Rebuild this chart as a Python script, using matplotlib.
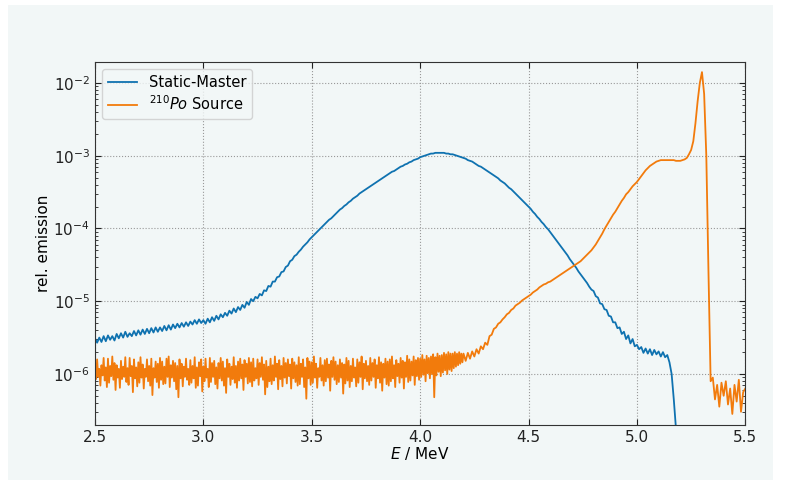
"""
Emission spectra: Static-Master vs 210Po source (log scale)
"""
import numpy as np
import matplotlib.pyplot as plt
import matplotlib.patches as mpatches
from matplotlib.ticker import LogLocator, NullFormatter

# log10(rel. emission), Static-Master, 2.50 ... 5.19 MeV, step 0.01
static_log = [
    -5.51, -5.57, -5.50, -5.56, -5.48, -5.55, -5.47, -5.53, -5.48, -5.54,
    -5.45, -5.51, -5.44, -5.50, -5.42, -5.49, -5.44, -5.48, -5.41, -5.47,
    -5.40, -5.46, -5.39, -5.45, -5.38, -5.44, -5.37, -5.43, -5.36, -5.42,
    -5.36, -5.41, -5.34, -5.40, -5.33, -5.39, -5.32, -5.37, -5.31, -5.36,
    -5.30, -5.35, -5.29, -5.34, -5.28, -5.32, -5.26, -5.31, -5.25, -5.30,
    -5.26, -5.31, -5.24, -5.29, -5.22, -5.27, -5.20, -5.25, -5.18, -5.22,
    -5.16, -5.20, -5.13, -5.17, -5.10, -5.15, -5.08, -5.12, -5.05, -5.09,
    -5.01, -5.05, -4.97, -5.00, -4.94, -4.96, -4.90, -4.92, -4.85, -4.86,
    -4.79, -4.80, -4.73, -4.73, -4.67, -4.66, -4.60, -4.59, -4.53, -4.51,
    -4.45, -4.43, -4.38, -4.36, -4.32, -4.29, -4.25, -4.22, -4.19, -4.15,
    -4.12, -4.09, -4.06, -4.03, -4.00, -3.97, -3.94, -3.91, -3.88, -3.86,
    -3.83, -3.80, -3.77, -3.74, -3.72, -3.69, -3.67, -3.64, -3.62, -3.59,
    -3.57, -3.55, -3.52, -3.50, -3.48, -3.46, -3.44, -3.42, -3.40, -3.38,
    -3.36, -3.34, -3.32, -3.30, -3.28, -3.26, -3.24, -3.22, -3.21, -3.19,
    -3.17, -3.15, -3.14, -3.12, -3.11, -3.09, -3.08, -3.06, -3.05, -3.04,
    -3.02, -3.01, -3.00, -2.99, -2.98, -2.97, -2.97, -2.96, -2.96, -2.96,
    -2.96, -2.96, -2.97, -2.97, -2.98, -2.98, -2.99, -3.00, -3.01, -3.02,
    -3.03, -3.04, -3.06, -3.07, -3.08, -3.10, -3.12, -3.14, -3.15, -3.17,
    -3.19, -3.21, -3.23, -3.25, -3.27, -3.29, -3.31, -3.34, -3.36, -3.38,
    -3.41, -3.44, -3.46, -3.49, -3.52, -3.55, -3.58, -3.61, -3.64, -3.67,
    -3.70, -3.73, -3.77, -3.80, -3.84, -3.87, -3.91, -3.94, -3.98, -4.01,
    -4.05, -4.09, -4.13, -4.17, -4.21, -4.25, -4.29, -4.33, -4.37, -4.42,
    -4.46, -4.50, -4.54, -4.59, -4.63, -4.67, -4.71, -4.75, -4.80, -4.84,
    -4.86, -4.93, -4.95, -5.03, -5.04, -5.11, -5.12, -5.20, -5.21, -5.29,
    -5.29, -5.37, -5.36, -5.45, -5.42, -5.52, -5.47, -5.58, -5.52, -5.62,
    -5.60, -5.66, -5.63, -5.71, -5.65, -5.72, -5.66, -5.74, -5.67, -5.73,
    -5.69, -5.76, -5.70, -5.77, -5.74, -5.84, -6.00, -6.35, -6.75, -7.00,
]

# log10(rel. emission), 210Po source, noisy flat part 2.500 ... 4.195 MeV, step 0.005
po_noise_log = [
    -5.90, -6.07, -5.80, -6.04, -5.93, -6.16, -5.88, -6.02, -5.78, -6.09,
    -5.91, -6.18, -5.79, -6.12, -5.89, -6.03, -5.76, -6.08, -5.85, -6.22,
    -5.88, -6.05, -5.93, -6.19, -5.82, -6.07, -5.90, -6.04, -5.77, -6.11,
    -5.92, -6.15, -5.78, -6.03, -5.89, -6.25, -5.80, -6.06, -5.91, -6.17,
    -5.84, -6.12, -5.77, -6.05, -5.87, -6.20, -5.93, -6.04, -5.80, -6.10,
    -5.89, -6.16, -5.79, -6.29, -5.92, -6.05, -5.83, -6.11, -5.86, -6.19,
    -5.78, -6.08, -5.83, -6.14, -5.90, -6.13, -5.79, -6.04, -5.76, -6.18,
    -5.88, -6.05, -5.82, -6.10, -5.85, -6.21, -5.89, -6.32, -5.80, -6.06,
    -5.86, -6.17, -5.90, -6.04, -5.79, -6.08, -5.93, -6.15, -5.81, -6.12,
    -5.89, -6.06, -5.77, -6.19, -5.91, -6.16, -5.84, -6.03, -5.80, -6.24,
    -5.90, -6.10, -5.79, -6.05, -5.93, -6.18, -5.78, -6.11, -5.85, -6.04,
    -5.82, -6.14, -5.91, -6.20, -5.85, -6.06, -5.78, -6.09, -5.83, -6.16,
    -5.92, -6.26, -5.80, -6.04, -5.86, -6.15, -5.90, -6.07, -5.77, -6.12,
    -5.89, -6.19, -5.83, -6.09, -5.79, -6.06, -5.87, -6.22, -5.81, -6.04,
    -5.86, -6.13, -5.78, -6.11, -5.84, -6.17, -5.79, -6.09, -5.92, -6.06,
    -5.80, -6.15, -5.85, -6.04, -5.77, -6.08, -5.87, -6.28, -5.82, -6.18,
    -5.90, -6.10, -5.79, -6.14, -5.88, -6.09, -5.76, -6.04, -5.86, -6.21,
    -5.81, -6.07, -5.89, -6.17, -5.78, -6.05, -5.85, -6.13, -5.80, -6.03,
    -5.87, -6.20, -5.79, -6.06, -5.84, -6.11, -5.88, -6.16, -5.77, -6.14,
    -5.86, -6.04, -5.80, -6.18, -5.91, -6.34, -5.78, -6.06, -5.83, -6.15,
    -5.84, -6.12, -5.76, -6.05, -5.86, -6.19, -5.92, -6.04, -5.78, -6.09,
    -5.88, -6.16, -5.81, -6.10, -5.79, -6.05, -5.87, -6.23, -5.82, -6.04,
    -5.77, -6.08, -5.83, -6.14, -5.88, -6.11, -5.80, -6.05, -5.85, -6.27,
    -5.87, -6.13, -5.78, -6.09, -5.82, -6.18, -5.89, -6.10, -5.79, -6.05,
    -5.91, -6.17, -5.80, -6.12, -5.84, -6.04, -5.76, -6.21, -5.86, -6.06,
    -5.82, -6.10, -5.89, -6.15, -5.78, -6.09, -5.85, -6.04, -5.80, -6.19,
    -5.88, -6.06, -5.77, -6.12, -5.84, -6.23, -5.86, -6.05, -5.79, -6.14,
    -5.83, -6.16, -5.80, -6.10, -5.76, -6.06, -5.88, -6.18, -5.81, -6.03,
    -5.86, -6.12, -5.78, -6.05, -5.82, -6.20, -5.84, -6.04, -5.75, -6.11,
    -5.80, -6.09, -5.83, -6.02, -5.76, -6.15, -5.81, -6.03, -5.78, -6.08,
    -5.79, -6.04, -5.74, -6.01, -5.80, -6.10, -5.75, -5.99, -5.78, -6.06,
    -5.76, -6.00, -5.73, -6.32, -5.77, -6.02, -5.72, -5.97, -5.75, -6.03,
    -5.74, -5.98, -5.71, -5.95, -5.73, -6.00, -5.70, -5.94, -5.72, -5.96,
    -5.72, -5.92, -5.70, -5.90, -5.72, -5.88, -5.70, -5.86, -5.72, -5.84,
]

# log10(rel. emission), 210Po source, 4.20 ... 5.50 MeV, step 0.01
po_log = [
    -5.72, -5.82, -5.71, -5.79, -5.69, -5.76, -5.66, -5.72, -5.62, -5.66,
    -5.57, -5.60, -5.48, -5.46, -5.38, -5.36, -5.31, -5.29, -5.25, -5.22,
    -5.18, -5.16, -5.12, -5.10, -5.06, -5.04, -5.02, -4.99, -4.97, -4.95,
    -4.93, -4.91, -4.88, -4.86, -4.84, -4.81, -4.79, -4.77, -4.76, -4.74,
    -4.73, -4.71, -4.69, -4.67, -4.65, -4.63, -4.61, -4.59, -4.57, -4.55,
    -4.53, -4.51, -4.49, -4.47, -4.45, -4.42, -4.39, -4.36, -4.33, -4.30,
    -4.26, -4.22, -4.17, -4.12, -4.07, -4.01, -3.96, -3.91, -3.86, -3.81,
    -3.77, -3.72, -3.67, -3.62, -3.58, -3.53, -3.50, -3.46, -3.42, -3.39,
    -3.36, -3.32, -3.28, -3.24, -3.20, -3.17, -3.14, -3.12, -3.10, -3.08,
    -3.07, -3.06, -3.06, -3.06, -3.06, -3.06, -3.06, -3.06, -3.07, -3.07,
    -3.07, -3.06, -3.05, -3.03, -2.98, -2.92, -2.80, -2.55, -2.25, -2.00,
    -1.85, -2.15, -3.00, -4.60, -6.10, -6.05, -6.35, -6.15, -6.45, -6.12,
    -6.30, -6.10, -6.42, -6.20, -6.55, -6.15, -6.38, -6.08, -6.52, -6.25,
    -6.20,
]

BLUE = "#0f72b0"
ORANGE = "#f27b0c"
BG = "#f2f7f7"

E_static = np.round(2.50 + 0.01 * np.arange(len(static_log)), 3)
E_po = np.concatenate([
    np.round(2.50 + 0.005 * np.arange(len(po_noise_log)), 3),
    np.round(4.20 + 0.01 * np.arange(len(po_log)), 3),
])
y_static = 10.0 ** np.array(static_log)
y_po = 10.0 ** np.array(po_noise_log + po_log)

fig = plt.figure(figsize=(7.98, 4.80), dpi=100)
fig.patch.set_facecolor("white")
# light panel behind the plot (white border round it)
panel = mpatches.Rectangle((8 / 798, 0), 765 / 798, 475 / 480,
                           transform=fig.transFigure,
                           facecolor=BG, edgecolor="none", zorder=-10)
fig.add_artist(panel)

ax = fig.add_axes([0.119, 0.115, 0.815, 0.756])
ax.set_zorder(1)
ax.set_facecolor(BG)

ax.plot(E_static, y_static, color=BLUE, lw=1.3, label="Static-Master")
ax.plot(E_po, y_po, color=ORANGE, lw=1.3, label=r"$^{210}Po$ Source")

ax.set_yscale("log")
ax.set_xlim(2.5, 5.5)
ax.set_ylim(2.0e-7, 1.95e-2)
ax.set_xticks([2.5, 3.0, 3.5, 4.0, 4.5, 5.0, 5.5])
ax.yaxis.set_minor_locator(LogLocator(base=10, subs=np.arange(2, 10)))
ax.yaxis.set_minor_formatter(NullFormatter())

ax.tick_params(which="both", direction="in", top=True, right=True,
               labelsize=11, colors="#222")
ax.tick_params(which="major", length=4)
ax.tick_params(which="minor", length=2)
ax.grid(True, which="major", ls=":", color="#999", lw=0.8)
for spine in ax.spines.values():
    spine.set_edgecolor("#333")

ax.set_xlabel("$E$ / MeV", fontsize=11, labelpad=0)
ax.set_ylabel("rel. emission", fontsize=11, labelpad=2)

leg = ax.legend(loc="upper left", fontsize=10.5, framealpha=0.8,
                facecolor=BG, edgecolor="#ccc", handlelength=2.0,
                labelspacing=0.3)

fig.savefig("out.png", dpi=100, facecolor=fig.get_facecolor())
